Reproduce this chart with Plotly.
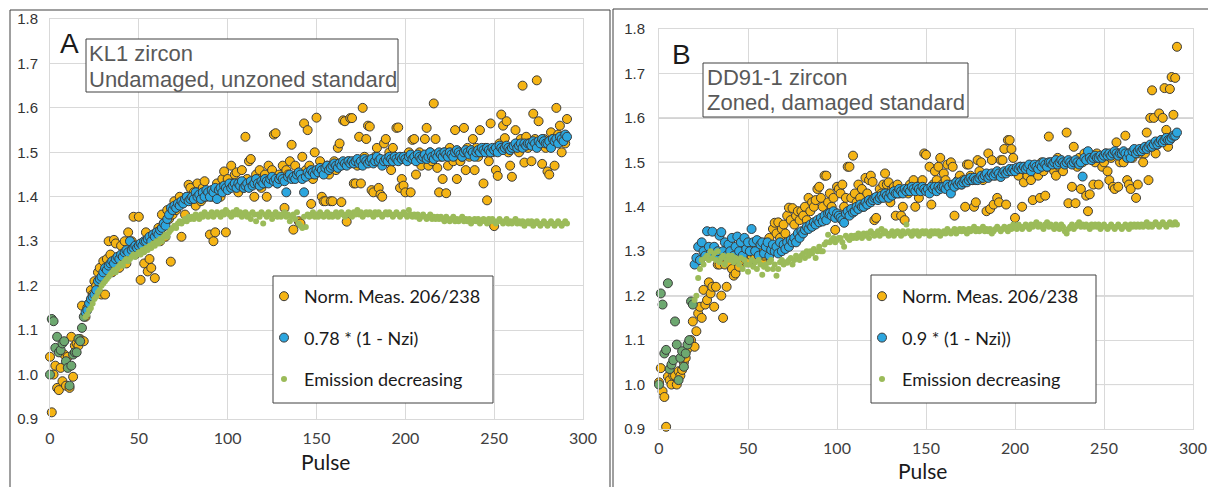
import plotly.graph_objects as go

W, H = 1208, 487

# ---------------- data ----------------
pulse = list(range(292))

a_norm = [
    1.04, 0.915, 1.00, 1.02, 0.97, 0.965, 1.015, 0.985, 1.045, 0.975,
    1.04, 0.97, 1.085, 0.995, 1.065, 1.07, 1.065, 1.08, 1.155, 1.075,
    1.13, 1.15, 1.16, 1.19, 1.18, 1.21, 1.20, 1.23, 1.24, 1.18,
    1.255, 1.18, 1.26, 1.30, 1.27, 1.23, 1.303, 1.295, 1.25, 1.24,
    1.29, 1.26, 1.30, 1.25, 1.32, 1.28, 1.30, 1.355, 1.27, 1.29,
    1.355, 1.213, 1.29, 1.25, 1.32, 1.232, 1.26, 1.24, 1.30, 1.217,
    1.32, 1.33, 1.30, 1.36, 1.34, 1.31, 1.37, 1.35, 1.254, 1.36,
    1.39, 1.37, 1.38, 1.40, 1.31, 1.39, 1.36, 1.40, 1.427, 1.42,
    1.39, 1.41, 1.38, 1.43, 1.40, 1.39, 1.42, 1.435, 1.40, 1.41,
    1.315, 1.40, 1.30, 1.32, 1.43, 1.41, 1.40, 1.44, 1.457, 1.32,
    1.44, 1.42, 1.47, 1.43, 1.45, 1.455, 1.41, 1.43, 1.46, 1.42,
    1.535, 1.44, 1.48, 1.485, 1.43, 1.40, 1.45, 1.43, 1.46, 1.42,
    1.43, 1.45, 1.40, 1.47, 1.44, 1.46, 1.54, 1.543, 1.43, 1.45,
    1.44, 1.47, 1.375, 1.46, 1.45, 1.48, 1.517, 1.326, 1.47, 1.45,
    1.345, 1.34, 1.49, 1.565, 1.46, 1.55, 1.47, 1.384, 1.44, 1.50,
    1.578, 1.46, 1.48, 1.40, 1.39, 1.39, 1.47, 1.45, 1.39, 1.39,
    1.48, 1.46, 1.51, 1.52, 1.388, 1.572, 1.57, 1.344, 1.48, 1.577,
    1.577, 1.43, 1.43, 1.47, 1.535, 1.43, 1.60, 1.49, 1.53, 1.56,
    1.558, 1.415, 1.41, 1.49, 1.51, 1.42, 1.405, 1.40, 1.52, 1.53,
    1.48, 1.50, 1.46, 1.51, 1.49, 1.555, 1.556, 1.42, 1.44, 1.425,
    1.41, 1.486, 1.50, 1.41, 1.528, 1.53, 1.45, 1.48, 1.50, 1.47,
    1.49, 1.53, 1.555, 1.47, 1.50, 1.48, 1.61, 1.53, 1.465, 1.41,
    1.49, 1.44, 1.50, 1.408, 1.47, 1.51, 1.49, 1.48, 1.55, 1.44,
    1.50, 1.48, 1.49, 1.555, 1.46, 1.51, 1.49, 1.50, 1.53, 1.46,
    1.51, 1.49, 1.55, 1.50, 1.43, 1.51, 1.392, 1.48, 1.565, 1.50,
    1.334, 1.46, 1.447, 1.52, 1.585, 1.56, 1.532, 1.57, 1.50, 1.47,
    1.445, 1.51, 1.55, 1.52, 1.50, 1.53, 1.65, 1.477, 1.535, 1.51,
    1.52, 1.48, 1.587, 1.53, 1.662, 1.57, 1.52, 1.474, 1.53, 1.51,
    1.457, 1.45, 1.545, 1.53, 1.47, 1.60, 1.54, 1.56, 1.50, 1.53,
    1.52, 1.575,
]

a_model = [
    1.00, 1.125, 1.12, 1.06, 1.085, 1.05, 1.055, 1.07, 1.075, 1.03,
    1.015, 0.975, 1.02, 1.045, 1.05, 1.05, 1.08, 1.075, 1.105, 1.13,
    1.14, 1.145, 1.16, 1.17, 1.175, 1.18, 1.19, 1.21, 1.215, 1.22,
    1.23, 1.24, 1.235, 1.245, 1.25, 1.255, 1.25, 1.26, 1.265, 1.26,
    1.27, 1.265, 1.275, 1.28, 1.275, 1.30, 1.28, 1.285, 1.29, 1.285,
    1.29, 1.295, 1.29, 1.30, 1.30, 1.305, 1.31, 1.30, 1.315, 1.31,
    1.32, 1.315, 1.325, 1.33, 1.34, 1.335, 1.35, 1.36, 1.375, 1.37,
    1.38, 1.375, 1.385, 1.38, 1.39, 1.385, 1.395, 1.40, 1.39, 1.395,
    1.40, 1.395, 1.41, 1.40, 1.405, 1.395, 1.41, 1.40, 1.415, 1.41,
    1.40, 1.415, 1.41, 1.42, 1.395, 1.415, 1.42, 1.41, 1.425, 1.42,
    1.415, 1.43, 1.42, 1.425, 1.43, 1.42, 1.43, 1.425, 1.435, 1.42,
    1.425, 1.43, 1.42, 1.435, 1.425, 1.43, 1.44, 1.43, 1.425, 1.435,
    1.43, 1.44, 1.435, 1.43, 1.44, 1.445, 1.435, 1.44, 1.43, 1.44,
    1.445, 1.44, 1.435, 1.41, 1.445, 1.45, 1.44, 1.445, 1.44, 1.45,
    1.455, 1.45, 1.44, 1.41, 1.445, 1.455, 1.45, 1.46, 1.455, 1.45,
    1.46, 1.455, 1.465, 1.46, 1.45, 1.465, 1.47, 1.46, 1.465, 1.47,
    1.475, 1.47, 1.465, 1.475, 1.47, 1.48, 1.475, 1.47, 1.48, 1.475,
    1.48, 1.475, 1.48, 1.485, 1.475, 1.48, 1.47, 1.485, 1.48, 1.475,
    1.48, 1.485, 1.475, 1.48, 1.49, 1.48, 1.485, 1.47, 1.48, 1.485,
    1.48, 1.49, 1.485, 1.48, 1.49, 1.485, 1.48, 1.49, 1.485, 1.49,
    1.485, 1.48, 1.49, 1.495, 1.485, 1.49, 1.48, 1.495, 1.49, 1.485,
    1.49, 1.495, 1.485, 1.49, 1.50, 1.49, 1.485, 1.495, 1.49, 1.50,
    1.495, 1.49, 1.50, 1.495, 1.49, 1.50, 1.495, 1.49, 1.50, 1.505,
    1.50, 1.495, 1.49, 1.50, 1.505, 1.50, 1.495, 1.505, 1.50, 1.49,
    1.50, 1.505, 1.50, 1.51, 1.505, 1.50, 1.51, 1.505, 1.50, 1.51,
    1.505, 1.51, 1.50, 1.515, 1.51, 1.505, 1.51, 1.515, 1.51, 1.505,
    1.51, 1.515, 1.52, 1.51, 1.515, 1.52, 1.51, 1.52, 1.515, 1.52,
    1.52, 1.515, 1.525, 1.52, 1.51, 1.525, 1.52, 1.53, 1.525, 1.52,
    1.52, 1.525, 1.51, 1.53, 1.525, 1.53, 1.52, 1.535, 1.53, 1.525,
    1.54, 1.535,
]

a_emis = [
    1.00, 1.125, 1.12, 1.06, 1.085, 1.05, 1.055, 1.07, 1.075, 1.03,
    1.015, 0.975, 1.02, 1.045, 1.05, 1.05, 1.08, 1.075, 1.105, 1.125,
    1.13, 1.135, 1.145, 1.15, 1.16, 1.17, 1.175, 1.185, 1.19, 1.20,
    1.205, 1.21, 1.215, 1.22, 1.225, 1.23, 1.235, 1.23, 1.24, 1.245,
    1.25, 1.245, 1.255, 1.26, 1.255, 1.26, 1.265, 1.27, 1.265, 1.27,
    1.275, 1.27, 1.28, 1.275, 1.285, 1.28, 1.29, 1.285, 1.295, 1.29,
    1.30, 1.295, 1.305, 1.30, 1.31, 1.315, 1.31, 1.32, 1.325, 1.33,
    1.335, 1.33, 1.34, 1.345, 1.34, 1.345, 1.35, 1.345, 1.355, 1.35,
    1.355, 1.35, 1.36, 1.355, 1.35, 1.36, 1.355, 1.365, 1.36, 1.355,
    1.36, 1.365, 1.355, 1.36, 1.365, 1.36, 1.355, 1.365, 1.36, 1.37,
    1.365, 1.36, 1.355, 1.365, 1.36, 1.37, 1.36, 1.365, 1.355, 1.36,
    1.365, 1.355, 1.36, 1.35, 1.365, 1.36, 1.345, 1.36, 1.355, 1.365,
    1.34, 1.36, 1.355, 1.365, 1.36, 1.35, 1.36, 1.365, 1.355, 1.36,
    1.355, 1.36, 1.365, 1.355, 1.36, 1.345, 1.355, 1.36, 1.35, 1.365,
    1.34, 1.335, 1.33, 1.355, 1.332, 1.36, 1.355, 1.36, 1.365, 1.355,
    1.36, 1.355, 1.365, 1.36, 1.355, 1.36, 1.365, 1.355, 1.36, 1.355,
    1.36, 1.365, 1.355, 1.36, 1.365, 1.36, 1.355, 1.36, 1.365, 1.36,
    1.355, 1.365, 1.36, 1.37, 1.36, 1.365, 1.355, 1.36, 1.365, 1.36,
    1.365, 1.36, 1.355, 1.365, 1.36, 1.365, 1.36, 1.355, 1.36, 1.365,
    1.36, 1.365, 1.36, 1.355, 1.36, 1.365, 1.36, 1.355, 1.36, 1.365,
    1.36, 1.355, 1.37, 1.36, 1.355, 1.36, 1.355, 1.36, 1.35, 1.355,
    1.36, 1.355, 1.35, 1.355, 1.36, 1.35, 1.355, 1.35, 1.355, 1.35,
    1.355, 1.35, 1.345, 1.355, 1.35, 1.345, 1.35, 1.355, 1.345, 1.35,
    1.345, 1.35, 1.355, 1.345, 1.35, 1.345, 1.35, 1.34, 1.345, 1.35,
    1.345, 1.35, 1.34, 1.345, 1.35, 1.345, 1.34, 1.35, 1.345, 1.35,
    1.345, 1.34, 1.345, 1.35, 1.345, 1.34, 1.345, 1.35, 1.34, 1.345,
    1.34, 1.345, 1.35, 1.34, 1.345, 1.34, 1.345, 1.335, 1.34, 1.345,
    1.34, 1.345, 1.335, 1.34, 1.345, 1.34, 1.335, 1.34, 1.345, 1.34,
    1.335, 1.34, 1.345, 1.34, 1.335, 1.34, 1.345, 1.34, 1.335, 1.34,
    1.345, 1.34,
]

b_norm = [
    1.005, 1.037, 0.985, 0.972, 0.905, 1.018, 1.01, 1.00, 1.02, 1.02,
    1.00, 1.03, 1.02, 1.033, 1.05, 1.06, 1.08, 1.095, 1.10, 1.142,
    1.085, 1.12, 1.16, 1.175, 1.15, 1.213, 1.18, 1.19, 1.23, 1.205,
    1.22, 1.175, 1.22, 1.27, 1.27, 1.20, 1.15, 1.27, 1.22, 1.28,
    1.27, 1.26, 1.245, 1.25, 1.29, 1.265, 1.28, 1.30, 1.285, 1.30,
    1.275, 1.31, 1.29, 1.30, 1.285, 1.31, 1.322, 1.30, 1.28, 1.29,
    1.32, 1.30, 1.33, 1.31, 1.35, 1.364, 1.34, 1.365, 1.33, 1.35,
    1.36, 1.34, 1.38, 1.398, 1.37, 1.397, 1.36, 1.38, 1.39, 1.37,
    1.39, 1.38, 1.40, 1.37, 1.42, 1.39, 1.41, 1.40, 1.415, 1.44,
    1.445, 1.42, 1.40, 1.47, 1.47, 1.41, 1.43, 1.40, 1.42, 1.348,
    1.445, 1.44, 1.43, 1.45, 1.40, 1.42, 1.49, 1.49, 1.42, 1.515,
    1.43, 1.41, 1.45, 1.42, 1.44, 1.40, 1.465, 1.43, 1.46, 1.47,
    1.456, 1.37, 1.375, 1.42, 1.44, 1.43, 1.45, 1.475, 1.45, 1.455,
    1.41, 1.44, 1.445, 1.38, 1.45, 1.43, 1.38, 1.40, 1.37, 1.44,
    1.43, 1.45, 1.44, 1.46, 1.40, 1.445, 1.42, 1.45, 1.46, 1.52,
    1.517, 1.44, 1.49, 1.405, 1.45, 1.48, 1.46, 1.49, 1.51, 1.45,
    1.475, 1.46, 1.495, 1.44, 1.50, 1.49, 1.38, 1.45, 1.46, 1.47,
    1.45, 1.46, 1.40, 1.495, 1.495, 1.47, 1.46, 1.40, 1.41, 1.505,
    1.48, 1.50, 1.46, 1.47, 1.39, 1.52, 1.395, 1.505, 1.405, 1.47,
    1.42, 1.41, 1.505, 1.505, 1.53, 1.405, 1.55, 1.55, 1.53, 1.51,
    1.375, 1.48, 1.47, 1.49, 1.40, 1.455, 1.48, 1.47, 1.49, 1.46,
    1.415, 1.48, 1.49, 1.47, 1.42, 1.50, 1.48, 1.425, 1.49, 1.558,
    1.49, 1.50, 1.48, 1.47, 1.51, 1.49, 1.50, 1.48, 1.50, 1.567,
    1.408, 1.50, 1.445, 1.535, 1.408, 1.49, 1.51, 1.44, 1.50, 1.52,
    1.425, 1.39, 1.428, 1.51, 1.45, 1.50, 1.52, 1.45, 1.51, 1.49,
    1.50, 1.52, 1.48, 1.46, 1.51, 1.445, 1.44, 1.545, 1.445, 1.50,
    1.52, 1.50, 1.56, 1.46, 1.45, 1.44, 1.51, 1.52, 1.42, 1.45,
    1.52, 1.53, 1.50, 1.52, 1.567, 1.46, 1.60, 1.662, 1.60, 1.52,
    1.54, 1.61, 1.55, 1.60, 1.667, 1.573, 1.535, 1.665, 1.692, 1.607,
    1.69, 1.76,
]

b_model = [
    1.00, 1.205, 1.18, 1.07, 1.078, 1.228, 1.035, 1.045, 1.055, 1.142,
    1.09, 1.01, 1.06, 1.075, 1.04, 1.07, 1.09, 1.10, 1.187, 1.18,
    1.27, 1.285, 1.31, 1.28, 1.32, 1.30, 1.29, 1.345, 1.31, 1.295,
    1.344, 1.31, 1.29, 1.30, 1.335, 1.343, 1.30, 1.32, 1.29, 1.315,
    1.30, 1.33, 1.29, 1.31, 1.333, 1.30, 1.32, 1.29, 1.33, 1.305,
    1.32, 1.30, 1.35, 1.32, 1.30, 1.325, 1.29, 1.315, 1.32, 1.295,
    1.31, 1.32, 1.29, 1.303, 1.315, 1.30, 1.31, 1.295, 1.32, 1.30,
    1.315, 1.305, 1.32, 1.31, 1.325, 1.32, 1.33, 1.32, 1.34, 1.33,
    1.345, 1.34, 1.348, 1.355, 1.35, 1.36, 1.355, 1.365, 1.36, 1.37,
    1.365, 1.375, 1.367, 1.38, 1.37, 1.385, 1.386, 1.38, 1.39, 1.375,
    1.385, 1.38, 1.375, 1.37, 1.364, 1.385, 1.39, 1.38, 1.395, 1.387,
    1.39, 1.40, 1.395, 1.405, 1.40, 1.40, 1.41, 1.405, 1.415, 1.41,
    1.415, 1.42, 1.422, 1.415, 1.42, 1.425, 1.42, 1.43, 1.425, 1.42,
    1.43, 1.425, 1.435, 1.43, 1.43, 1.44, 1.435, 1.43, 1.44, 1.435,
    1.44, 1.435, 1.445, 1.44, 1.435, 1.445, 1.44, 1.435, 1.445, 1.44,
    1.435, 1.44, 1.43, 1.445, 1.44, 1.445, 1.435, 1.445, 1.44, 1.445,
    1.445, 1.44, 1.45, 1.445, 1.43, 1.45, 1.445, 1.455, 1.45, 1.455,
    1.45, 1.455, 1.46, 1.455, 1.46, 1.465, 1.46, 1.465, 1.46, 1.46,
    1.465, 1.47, 1.465, 1.47, 1.475, 1.465, 1.47, 1.475, 1.47, 1.475,
    1.48, 1.475, 1.467, 1.475, 1.48, 1.475, 1.48, 1.485, 1.48, 1.485,
    1.48, 1.488, 1.485, 1.49, 1.485, 1.49, 1.485, 1.49, 1.495, 1.48,
    1.49, 1.495, 1.49, 1.485, 1.495, 1.49, 1.50, 1.495, 1.49, 1.50,
    1.50, 1.495, 1.50, 1.505, 1.495, 1.50, 1.505, 1.50, 1.495, 1.50,
    1.505, 1.50, 1.495, 1.50, 1.505, 1.50, 1.495, 1.50, 1.468, 1.51,
    1.505, 1.525, 1.51, 1.505, 1.51, 1.515, 1.51, 1.51, 1.515, 1.51,
    1.515, 1.52, 1.515, 1.52, 1.515, 1.52, 1.525, 1.52, 1.515, 1.52,
    1.52, 1.525, 1.52, 1.51, 1.52, 1.51, 1.525, 1.53, 1.52, 1.525,
    1.53, 1.525, 1.53, 1.535, 1.53, 1.535, 1.54, 1.535, 1.54, 1.547,
    1.54, 1.545, 1.55, 1.545, 1.55, 1.555, 1.55, 1.55, 1.555, 1.56,
    1.56, 1.567,
]

b_emis = [
    1.00, 1.205, 1.18, 1.07, 1.078, 1.228, 1.035, 1.045, 1.055, 1.142,
    1.09, 1.01, 1.06, 1.075, 1.04, 1.07, 1.09, 1.10, 1.187, 1.18,
    1.19, 1.20, 1.24, 1.26, 1.28, 1.27, 1.285, 1.29, 1.28, 1.30,
    1.285, 1.295, 1.28, 1.30, 1.275, 1.285, 1.29, 1.27, 1.28, 1.29,
    1.28, 1.29, 1.275, 1.285, 1.28, 1.27, 1.285, 1.26, 1.28, 1.27,
    1.254, 1.27, 1.28, 1.265, 1.275, 1.26, 1.28, 1.27, 1.247, 1.265,
    1.27, 1.26, 1.275, 1.28, 1.26, 1.27, 1.245, 1.26, 1.275, 1.28,
    1.27, 1.275, 1.274, 1.28, 1.285, 1.27, 1.28, 1.29, 1.285, 1.28,
    1.29, 1.295, 1.285, 1.30, 1.29, 1.30, 1.295, 1.305, 1.285, 1.30,
    1.31, 1.30, 1.30, 1.315, 1.32, 1.337, 1.32, 1.325, 1.33, 1.32,
    1.325, 1.33, 1.33, 1.32, 1.31, 1.335, 1.33, 1.325, 1.335, 1.33,
    1.335, 1.33, 1.34, 1.335, 1.33, 1.34, 1.335, 1.34, 1.33, 1.345,
    1.34, 1.335, 1.34, 1.345, 1.335, 1.35, 1.34, 1.345, 1.34, 1.335,
    1.34, 1.345, 1.335, 1.34, 1.345, 1.34, 1.335, 1.345, 1.34, 1.36,
    1.345, 1.34, 1.335, 1.345, 1.34, 1.345, 1.335, 1.34, 1.345, 1.34,
    1.345, 1.34, 1.335, 1.345, 1.34, 1.345, 1.34, 1.345, 1.335, 1.34,
    1.345, 1.34, 1.35, 1.345, 1.34, 1.345, 1.35, 1.34, 1.345, 1.35,
    1.345, 1.35, 1.345, 1.34, 1.35, 1.345, 1.35, 1.355, 1.345, 1.35,
    1.345, 1.35, 1.355, 1.345, 1.35, 1.345, 1.35, 1.34, 1.345, 1.35,
    1.355, 1.35, 1.345, 1.35, 1.355, 1.35, 1.345, 1.355, 1.35, 1.36,
    1.355, 1.35, 1.36, 1.355, 1.35, 1.355, 1.36, 1.355, 1.35, 1.36,
    1.355, 1.36, 1.365, 1.355, 1.36, 1.355, 1.35, 1.36, 1.365, 1.355,
    1.36, 1.355, 1.35, 1.36, 1.355, 1.35, 1.36, 1.355, 1.345, 1.34,
    1.35, 1.355, 1.36, 1.35, 1.355, 1.36, 1.365, 1.355, 1.36, 1.355,
    1.36, 1.355, 1.35, 1.36, 1.355, 1.36, 1.355, 1.36, 1.35, 1.355,
    1.36, 1.355, 1.35, 1.355, 1.36, 1.355, 1.35, 1.355, 1.36, 1.355,
    1.35, 1.355, 1.36, 1.355, 1.35, 1.36, 1.355, 1.36, 1.355, 1.36,
    1.355, 1.36, 1.355, 1.36, 1.365, 1.355, 1.36, 1.355, 1.36, 1.365,
    1.36, 1.355, 1.36, 1.365, 1.36, 1.355, 1.36, 1.365, 1.36, 1.36,
    1.365, 1.36,
]

legend_a = ["Norm. Meas. 206/238", "0.78 * (1 - Nzi)", "Emission decreasing"]
legend_b = ["Norm. Meas. 206/238", "0.9 * (1 - Nzi))", "Emission decreasing"]
titles_a = ["A", "KL1 zircon", "Undamaged, unzoned standard"]
titles_b = ["B", "DD91-1 zircon", "Zoned, damaged standard"]
x_title = "Pulse"
b_dark_grid = [1.0, 1.3, 1.5, 1.6]
b_black_grid = [1.2]
early_n = 20  # early pulses drawn in the darker green tone

# ---------------- styling ----------------
ORANGE = "#F5B414"
BLUE = "#2CA6DF"
GREEN = "#9BBB59"
EARLY = "#6DA870"
EDGE = "#3b3b3b"
GRID = "#d9d9d9"


def px(x):
    return x / W


def py(y):
    return 1 - y / H


fig = go.Figure()


def add_panel(xa, ya, legend, norm, model, emis, names):
    fig.add_trace(go.Scatter(
        x=pulse, y=norm, mode="markers", name=names[0], xaxis=xa, yaxis=ya,
        legend=legend, legendgroup=legend + "n", cliponaxis=False,
        marker=dict(size=9, color=ORANGE, line=dict(color=EDGE, width=1)),
    ))
    fig.add_trace(go.Scatter(
        x=pulse[:early_n], y=model[:early_n], mode="markers", name=names[1],
        xaxis=xa, yaxis=ya, legend=legend, legendgroup=legend + "m",
        showlegend=False, cliponaxis=False,
        marker=dict(size=9, color=EARLY, line=dict(color=EDGE, width=1)),
    ))
    fig.add_trace(go.Scatter(
        x=pulse[early_n:], y=model[early_n:], mode="markers", name=names[1],
        xaxis=xa, yaxis=ya, legend=legend, legendgroup=legend + "m",
        cliponaxis=False,
        marker=dict(size=9, color=BLUE, line=dict(color=EDGE, width=1)),
    ))
    fig.add_trace(go.Scatter(
        x=pulse[early_n:], y=emis[early_n:], mode="markers", name=names[2],
        xaxis=xa, yaxis=ya, legend=legend, legendgroup=legend + "e",
        cliponaxis=False,
        marker=dict(size=6, color=GREEN, line=dict(width=0)),
    ))


add_panel("x", "y", "legend", a_norm, a_model, a_emis, legend_a)
add_panel("x2", "y2", "legend2", b_norm, b_model, b_emis, legend_b)

xcommon = dict(range=[0, 300], dtick=50, showgrid=True, gridcolor=GRID,
               gridwidth=1, zeroline=False, showline=True, linecolor=GRID,
               mirror=True, ticks="", ticklabelstandoff=5,
               tickfont=dict(family="Lato", size=16, color="#404040"))
ycommon = dict(range=[0.9, 1.8], dtick=0.1, tickformat=".1f", showgrid=True,
               gridcolor=GRID, gridwidth=1, zeroline=False, showline=True,
               linecolor=GRID, mirror=True, ticks="",
               tickfont=dict(family="Liberation Sans", size=15, color="#333333"))

fig.update_layout(
    width=W, height=H,
    margin=dict(l=0, r=0, t=0, b=0, pad=0, autoexpand=False),
    paper_bgcolor="white", plot_bgcolor="white",
    xaxis=dict(domain=[px(50), px(583)], anchor="y", **xcommon),
    yaxis=dict(domain=[py(419), py(19)], anchor="x", ticklabelstandoff=8, **ycommon),
    xaxis2=dict(domain=[px(659), px(1193)], anchor="y2", **xcommon),
    yaxis2=dict(domain=[py(429), py(29)], anchor="x2", ticklabelstandoff=10, **ycommon),
    legend=dict(x=px(264), y=py(278), xanchor="left", yanchor="top",
                bgcolor="rgba(0,0,0,0)", borderwidth=0,
                font=dict(family="Lato", size=18, color="#1a1a1a"),
                tracegroupgap=15, itemsizing="trace"),
    legend2=dict(x=px(862), y=py(278), xanchor="left", yanchor="top",
                 bgcolor="rgba(0,0,0,0)", borderwidth=0,
                 font=dict(family="Lato", size=18, color="#1a1a1a"),
                 tracegroupgap=15, itemsizing="trace"),
)

shapes = []
# panel frames
shapes.append(dict(type="rect", xref="paper", yref="paper", x0=px(10), x1=px(610),
                   y0=py(10), y1=py(495), line=dict(color="#404040", width=1),
                   layer="below"))
shapes.append(dict(type="line", xref="paper", yref="paper", x0=px(613), x1=px(613),
                   y0=py(9), y1=py(490), line=dict(color="#404040", width=1)))
shapes.append(dict(type="line", xref="paper", yref="paper", x0=px(613), x1=px(1210),
                   y0=py(9), y1=py(9), line=dict(color="#404040", width=1)))
# darker horizontal grid lines in panel B
for v in b_dark_grid:
    shapes.append(dict(type="line", xref="x2 domain", yref="y2", x0=0, x1=1, y0=v, y1=v,
                       line=dict(color="#8a8a8a", width=1), layer="below"))
for v in b_black_grid:
    shapes.append(dict(type="line", xref="x2 domain", yref="y2", x0=0, x1=1, y0=v, y1=v,
                       line=dict(color="#202020", width=1), layer="below"))
# title boxes and legend boxes
for (x0, y0, x1, y1) in [(86, 39, 398, 92), (703, 63, 968, 117),
                         (273, 276, 493, 403), (871, 275, 1096, 403)]:
    shapes.append(dict(type="rect", xref="paper", yref="paper",
                       x0=px(x0), x1=px(x1), y0=py(y0), y1=py(y1),
                       fillcolor="white", line=dict(color="#404040", width=1),
                       layer="above"))
fig.update_layout(shapes=shapes)

ann = []
TF = dict(family="Liberation Sans", size=22, color="#595959")
BIG = dict(family="Liberation Sans", size=28, color="#1a1a1a")
PF = dict(family="Lato", size=21, color="#1a1a1a")
ann.append(dict(x=px(69), y=py(43), text=titles_a[0], xanchor="center", font=BIG))
ann.append(dict(x=px(681), y=py(55), text=titles_b[0], xanchor="center", font=BIG))
ann.append(dict(x=px(87), y=py(54), text=titles_a[1], xanchor="left", font=TF))
ann.append(dict(x=px(87), y=py(79), text=titles_a[2], xanchor="left", font=TF))
ann.append(dict(x=px(705), y=py(77), text=titles_b[1], xanchor="left", font=TF))
ann.append(dict(x=px(705), y=py(103), text=titles_b[2], xanchor="left", font=TF))
ann.append(dict(x=px(325), y=py(461), text=x_title, xanchor="center", font=PF))
ann.append(dict(x=px(922), y=py(470), text=x_title, xanchor="center", font=PF))
for a in ann:
    a.update(xref="paper", yref="paper", yanchor="middle", showarrow=False)
fig.update_layout(annotations=ann)

fig.write_html("out.html")
